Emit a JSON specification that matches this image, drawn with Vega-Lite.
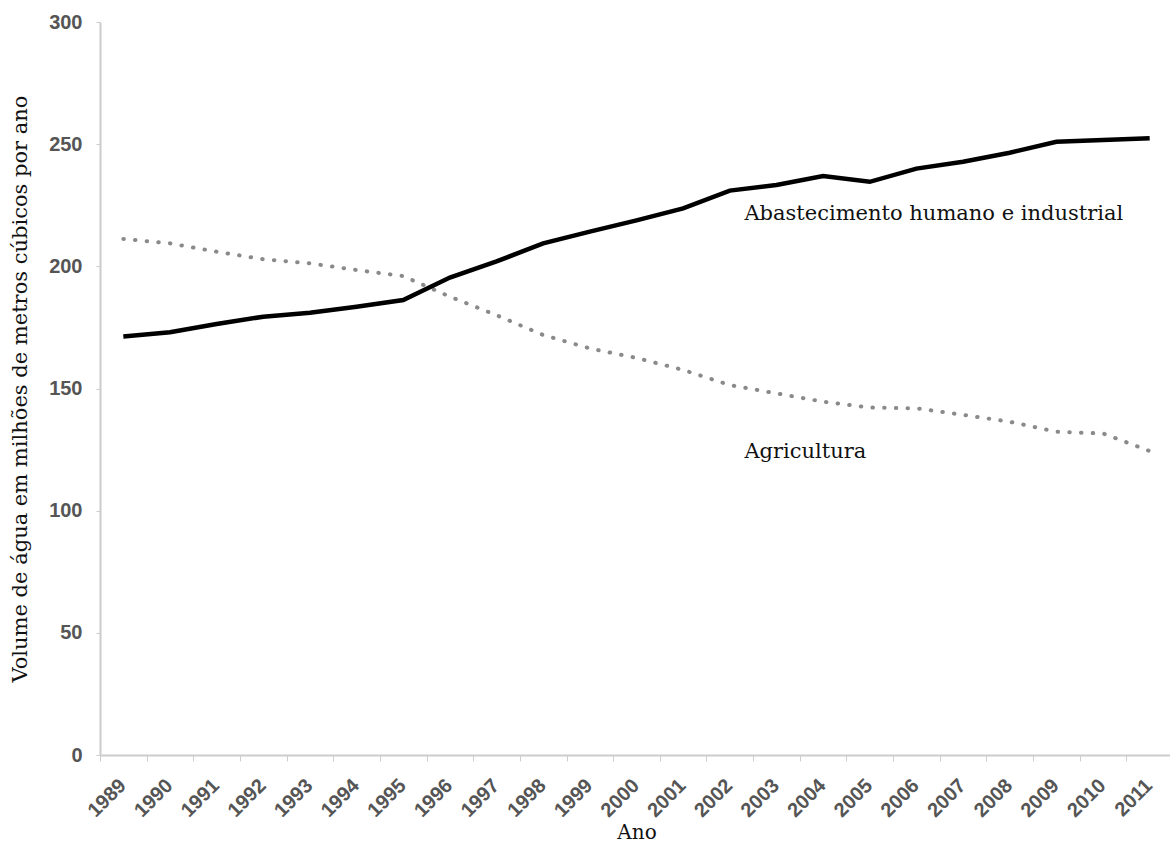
{
  "$schema": "https://vega.github.io/schema/vega-lite/v6.json",
  "width": 1073,
  "height": 733,
  "autosize": {"type": "none"},
  "padding": {"left": 100, "top": 22, "right": 0, "bottom": 88},
  "background": "white",
  "config": {"view": {"stroke": null}},
  "datasets": {
    "series": [
      {"ano": "1989", "serie": "Abastecimento humano e industrial", "volume": 171.3},
      {"ano": "1990", "serie": "Abastecimento humano e industrial", "volume": 173.0},
      {"ano": "1991", "serie": "Abastecimento humano e industrial", "volume": 176.4},
      {"ano": "1992", "serie": "Abastecimento humano e industrial", "volume": 179.4},
      {"ano": "1993", "serie": "Abastecimento humano e industrial", "volume": 181.0},
      {"ano": "1994", "serie": "Abastecimento humano e industrial", "volume": 183.5},
      {"ano": "1995", "serie": "Abastecimento humano e industrial", "volume": 186.2},
      {"ano": "1996", "serie": "Abastecimento humano e industrial", "volume": 195.4},
      {"ano": "1997", "serie": "Abastecimento humano e industrial", "volume": 202.0},
      {"ano": "1998", "serie": "Abastecimento humano e industrial", "volume": 209.4},
      {"ano": "1999", "serie": "Abastecimento humano e industrial", "volume": 214.2},
      {"ano": "2000", "serie": "Abastecimento humano e industrial", "volume": 218.8},
      {"ano": "2001", "serie": "Abastecimento humano e industrial", "volume": 223.7},
      {"ano": "2002", "serie": "Abastecimento humano e industrial", "volume": 231.0},
      {"ano": "2003", "serie": "Abastecimento humano e industrial", "volume": 233.3},
      {"ano": "2004", "serie": "Abastecimento humano e industrial", "volume": 237.0},
      {"ano": "2005", "serie": "Abastecimento humano e industrial", "volume": 234.6},
      {"ano": "2006", "serie": "Abastecimento humano e industrial", "volume": 240.0},
      {"ano": "2007", "serie": "Abastecimento humano e industrial", "volume": 242.8},
      {"ano": "2008", "serie": "Abastecimento humano e industrial", "volume": 246.5},
      {"ano": "2009", "serie": "Abastecimento humano e industrial", "volume": 251.0},
      {"ano": "2010", "serie": "Abastecimento humano e industrial", "volume": 251.7},
      {"ano": "2011", "serie": "Abastecimento humano e industrial", "volume": 252.4},
      {"ano": "1989", "serie": "Agricultura", "volume": 211.2},
      {"ano": "1990", "serie": "Agricultura", "volume": 209.4},
      {"ano": "1991", "serie": "Agricultura", "volume": 206.0},
      {"ano": "1992", "serie": "Agricultura", "volume": 202.9},
      {"ano": "1993", "serie": "Agricultura", "volume": 201.2},
      {"ano": "1994", "serie": "Agricultura", "volume": 198.5},
      {"ano": "1995", "serie": "Agricultura", "volume": 196.0},
      {"ano": "1996", "serie": "Agricultura", "volume": 187.6},
      {"ano": "1997", "serie": "Agricultura", "volume": 180.0},
      {"ano": "1998", "serie": "Agricultura", "volume": 171.9},
      {"ano": "1999", "serie": "Agricultura", "volume": 166.4},
      {"ano": "2000", "serie": "Agricultura", "volume": 162.5},
      {"ano": "2001", "serie": "Agricultura", "volume": 157.6},
      {"ano": "2002", "serie": "Agricultura", "volume": 151.4},
      {"ano": "2003", "serie": "Agricultura", "volume": 148.0},
      {"ano": "2004", "serie": "Agricultura", "volume": 144.6},
      {"ano": "2005", "serie": "Agricultura", "volume": 142.2},
      {"ano": "2006", "serie": "Agricultura", "volume": 141.9},
      {"ano": "2007", "serie": "Agricultura", "volume": 139.2},
      {"ano": "2008", "serie": "Agricultura", "volume": 136.4},
      {"ano": "2009", "serie": "Agricultura", "volume": 132.3},
      {"ano": "2010", "serie": "Agricultura", "volume": 131.6},
      {"ano": "2011", "serie": "Agricultura", "volume": 124.4}
    ],
    "labels": [
      {"ano": "2003", "texto": "Abastecimento humano e industrial", "volume": 221.4},
      {"ano": "2003", "texto": "Agricultura", "volume": 124.0}
    ]
  },
  "encoding": {
    "x": {
      "field": "ano", "type": "ordinal",
      "scale": {"type": "band", "paddingInner": 0, "paddingOuter": 0},
      "axis": {
        "title": "Ano",
        "titleFont": "DejaVu Serif", "titleFontSize": 20, "titleFontWeight": "normal", "titleColor": "#111",
        "titlePadding": 2,
        "labelAngle": -45, "labelAlign": "right", "labelBaseline": "top",
        "labelFont": "Liberation Sans", "labelFontWeight": "bold", "labelFontSize": 20, "labelColor": "#555",
        "labelPadding": 14, "labelOffset": -8,
        "tickBand": "extent", "tickSize": 6, "tickColor": "#ccc",
        "domainColor": "#ccc", "domainWidth": 2, "grid": false
      }
    },
    "y": {
      "field": "volume", "type": "quantitative",
      "scale": {"domain": [0, 300], "nice": false, "zero": true},
      "axis": {
        "values": [0, 50, 100, 150, 200, 250, 300],
        "title": "Volume de água em milhões de metros cúbicos por ano",
        "titleFont": "DejaVu Serif", "titleFontSize": 21, "titleFontWeight": "normal", "titleColor": "#111",
        "titlePadding": 18,
        "labelFont": "Liberation Sans", "labelFontWeight": "bold", "labelFontSize": 20, "labelColor": "#555",
        "labelPadding": 14,
        "tickSize": 4, "tickColor": "#ccc",
        "domainColor": "#ccc", "domainWidth": 2, "grid": false
      }
    }
  },
  "layer": [
    {
      "data": {"name": "series"},
      "transform": [{"filter": "datum.serie === 'Agricultura'"}],
      "mark": {"type": "line", "color": "#8a8a8a", "strokeWidth": 4, "strokeCap": "round", "strokeDash": [0.5, 11.2]},
      "encoding": {}
    },
    {
      "data": {"name": "series"},
      "transform": [{"filter": "datum.serie !== 'Agricultura'"}],
      "mark": {"type": "line", "color": "#000", "strokeWidth": 4.5},
      "encoding": {}
    },
    {
      "data": {"name": "labels"},
      "mark": {"type": "text", "align": "left", "baseline": "middle", "dx": -32, "font": "DejaVu Serif", "fontSize": 21, "color": "#111"},
      "encoding": {"text": {"field": "texto"}}
    }
  ]
}
